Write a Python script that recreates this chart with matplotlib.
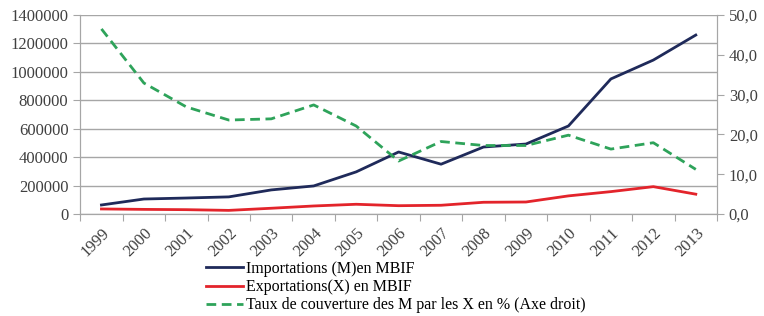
import matplotlib
matplotlib.use('Agg')
from matplotlib import pyplot as plt
import numpy as np

years = ['1999', '2000', '2001', '2002', '2003', '2004', '2005', '2006',
         '2007', '2008', '2009', '2010', '2011', '2012', '2013']
importations = [63000, 105000, 112000, 120000, 169000, 197000, 296000, 436000,
                350000, 471000, 492000, 619000, 950000, 1083000, 1259000]
exportations = [35000, 32000, 30000, 25000, 40000, 56000, 68000, 58000,
                61000, 82000, 84000, 127000, 157000, 192000, 139000]
taux = [46.5, 32.9, 26.9, 23.6, 23.9, 27.4, 22.1, 13.3,
        18.2, 17.2, 17.2, 19.8, 16.3, 17.9, 11.2]

plt.rcParams['font.family'] = ['Liberation Serif', 'DejaVu Serif']
plt.rcParams['font.size'] = 12

grey = '#a6a6a6'
fig = plt.figure(figsize=(7.64, 3.16), dpi=100)
ax = fig.add_axes([0.105, 0.323, 0.8335, 0.6295])
ax2 = ax.twinx()

x = np.arange(len(years))
l1, = ax.plot(x, importations, color='#1f2a5a', lw=2, label='Importations (M)en MBIF')
l2, = ax.plot(x, exportations, color='#e3242b', lw=2, label='Exportations(X) en MBIF')
l3, = ax2.plot(x, taux, color='#2ea35a', lw=2, ls=(0, (3.5, 2)),
               label='Taux de couverture des M par les X en % (Axe droit)')

ax.set_xlim(-0.5, len(years) - 0.5)
ax.set_ylim(0, 1400000)
ax2.set_ylim(0, 50)
ax.set_yticks(np.arange(0, 1400001, 200000))
ax.set_yticklabels([str(v) for v in range(0, 1400001, 200000)])
ax2.set_yticks(np.arange(0, 51, 10))
ax2.set_yticklabels([f'{v:.1f}'.replace('.', ',') for v in range(0, 51, 10)])

ax.set_xticks(np.arange(-0.5, len(years)), labels=[''] * (len(years) + 1))
ax.set_xticks(x, minor=True)
ax.set_xticklabels(years, minor=True, rotation=45, ha='right', va='top',
                   rotation_mode='anchor')
ax.tick_params(axis='x', which='minor', length=0, pad=8)
ax.tick_params(axis='x', which='major', length=5, color=grey)
ax.tick_params(axis='y', length=5, color=grey, colors='#404040')
ax.tick_params(axis='x', which='minor', colors='#404040')
ax2.tick_params(axis='y', length=5, color=grey, colors='#404040')

ax.grid(axis='y', color=grey, lw=1)
ax.set_axisbelow(True)
for a in (ax, ax2):
    a.spines['top'].set_visible(False)
    for s in ('left', 'right', 'bottom'):
        a.spines[s].set_color(grey)

fig.legend(handles=[l1, l2, l3], loc='upper left', bbox_to_anchor=(0.27, 0.175),
           frameon=False, fontsize=11.5, handlelength=2.3, handletextpad=0.2,
           labelspacing=0.15, borderaxespad=0, borderpad=0)

plt.savefig('out.png', dpi=100)
